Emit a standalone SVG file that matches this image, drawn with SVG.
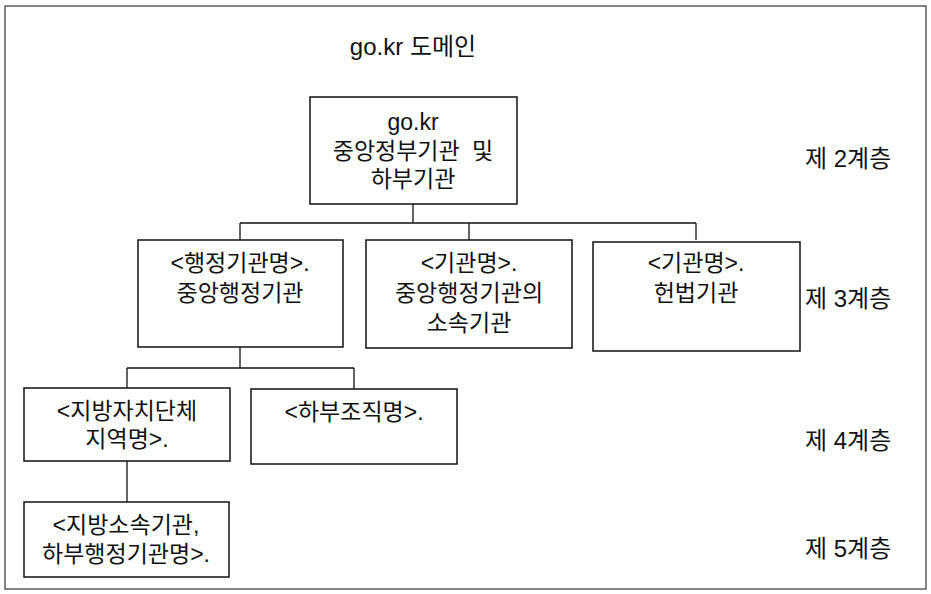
<svg xmlns="http://www.w3.org/2000/svg" width="931" height="594" viewBox="0 0 931 594">
<style>
text{font-family:"Liberation Sans","Noto Sans CJK KR",sans-serif;font-size:23px;fill:#111;text-anchor:middle}
.lbl{text-anchor:start;font-size:24px}
.ttl{font-size:24px}
.box{fill:#fff;stroke:#111;stroke-width:1.5}
.frame{fill:none;stroke:#333;stroke-width:1.2}
.con{fill:none;stroke:#111;stroke-width:1.3}
</style>
<rect width="931" height="594" fill="#fff"/>
<rect class="frame" x="5" y="6" width="921" height="583"/>
<text id="title" class="ttl" x="413" y="55">go.kr 도메인</text>
<g id="connectors">
<path class="con" d="M413 204V223M240 223H696M240 223V240M469 223V240M696 223V240"/>
<path class="con" d="M240 347V368M127 368H354M127 368V388M354 368V389"/>
<path class="con" d="M127 461V502"/>
</g>
<g id="n-top"><rect class="box" x="310" y="97" width="207" height="107"/>
<text x="413" y="130">go.kr</text><text x="413" y="159" word-spacing="6">중앙정부기관 및</text><text x="413" y="187">하부기관</text></g>
<g id="n-a"><rect class="box" x="138" y="240" width="205" height="107"/>
<text x="240" y="271">&lt;행정기관명&gt;.</text><text x="240" y="301">중앙행정기관</text></g>
<g id="n-b"><rect class="box" x="366" y="240" width="206" height="108"/>
<text x="469" y="271">&lt;기관명&gt;.</text><text x="469" y="301">중앙행정기관의</text><text x="469" y="331">소속기관</text></g>
<g id="n-c"><rect class="box" x="593" y="242" width="207" height="109"/>
<text x="696" y="271">&lt;기관명&gt;.</text><text x="696" y="301">헌법기관</text></g>
<g id="n-d"><rect class="box" x="24" y="388" width="206" height="73"/>
<text x="127" y="419">&lt;지방자치단체</text><text x="127" y="447">지역명&gt;.</text></g>
<g id="n-e"><rect class="box" x="251" y="389" width="206" height="75"/>
<text x="354" y="420">&lt;하부조직명&gt;.</text></g>
<g id="n-f"><rect class="box" x="24" y="502" width="205" height="75"/>
<text x="126" y="533">&lt;지방소속기관,</text><text x="126" y="562">하부행정기관명&gt;.</text></g>
<g id="layers">
<text class="lbl" x="805" y="167">제 2계층</text>
<text class="lbl" x="805" y="307">제 3계층</text>
<text class="lbl" x="805" y="449">제 4계층</text>
<text class="lbl" x="805" y="557">제 5계층</text>
</g>
</svg>
